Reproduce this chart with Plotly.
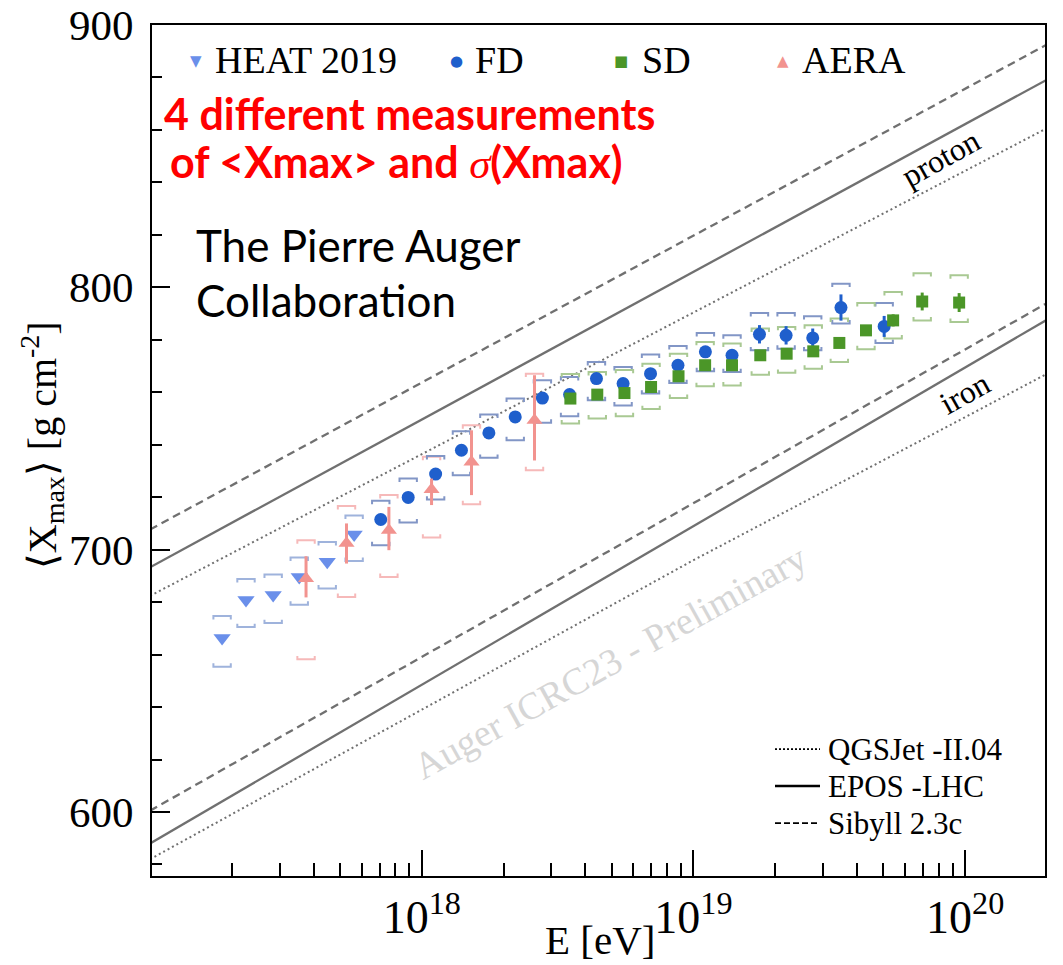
import plotly.graph_objects as go

# ---------------- data ----------------
# HEAT 2019: lg(E/eV), <Xmax>, systematic band (low, high)
heat_lgE = [17.265, 17.353, 17.453, 17.549, 17.652, 17.751]
heat_xmax = [666.3, 680.8, 682.7, 689.6, 695.4, 705.8]
heat_sys_lo = [655.4, 670.5, 672.0, 679.0, 685.2, 695.7]
heat_sys_hi = [674.7, 688.8, 690.5, 697.0, 702.9, 713.0]

# FD
fd_lgE = [17.849, 17.950, 18.051, 18.146, 18.247, 18.344, 18.444, 18.544, 18.643, 18.741,
          18.842, 18.943, 19.044, 19.142, 19.243, 19.341, 19.439, 19.543, 19.702]
fd_xmax = [711.5, 719.9, 728.8, 737.9, 744.5, 750.6, 757.8, 759.1, 765.2, 763.3,
           767.1, 770.3, 775.4, 774.1, 782.1, 781.7, 780.7, 792.3, 785.1]
fd_stat = [0.8, 0.8, 0.8, 0.8, 0.8, 0.8, 0.8, 0.9, 1.0, 1.0,
           1.1, 1.2, 1.4, 1.5, 3.5, 3.5, 3.6, 5.0, 4.0]
fd_sys_lo = [701.7, 710.4, 719.1, 728.4, 735.0, 741.7, 748.4, 750.9, 757.0, 755.0,
             759.5, 763.5, 768.0, 767.7, 776.0, 776.6, 776.0, 786.2, 778.8]
fd_sys_hi = [718.6, 727.1, 735.7, 745.1, 751.5, 757.6, 764.6, 765.8, 771.5, 769.6,
             774.4, 777.6, 782.6, 781.7, 790.2, 790.2, 789.0, 801.4, 794.0]

# SD
sd_lgE = [18.547, 18.646, 18.746, 18.844, 18.945, 19.043, 19.142, 19.246, 19.343, 19.441,
          19.537, 19.635, 19.735, 19.842, 19.978]
sd_xmax = [757.6, 759.1, 759.7, 762.0, 766.1, 770.3, 770.3, 774.1, 774.7, 775.6,
           778.8, 783.6, 787.4, 794.6, 794.2]
sd_stat = [0.5, 0.5, 0.5, 0.6, 0.7, 0.8, 0.9, 1.0, 1.2, 1.4,
           1.6, 1.9, 2.3, 3.4, 3.6]
sd_sys_lo = [748.1, 750.0, 750.9, 753.6, 757.8, 762.3, 762.6, 766.7, 767.4, 769.0,
             771.5, 776.4, 780.5, 787.4, 786.8]
sd_sys_hi = [767.0, 767.7, 768.5, 770.9, 774.7, 779.2, 778.6, 784.3, 784.9, 785.5,
             788.1, 794.0, 798.2, 805.4, 804.6]

# AERA
aera_lgE = [17.574, 17.723, 17.879, 18.036, 18.183, 18.415]
aera_xmax = [689.0, 702.4, 707.4, 722.9, 733.4, 749.3]
aera_stat_lo = [681.8, 694.7, 699.8, 717.0, 720.8, 734.0]
aera_stat_hi = [697.5, 710.0, 716.3, 727.1, 745.5, 766.5]
aera_sys_lo = [658.2, 682.0, 689.6, 704.6, 717.3, 730.3]
aera_sys_hi = [703.6, 716.6, 720.8, 735.4, 747.4, 767.1]

# Model predictions (proton / iron) vs lg(E/eV)
model_lgE = [17.0, 18.0, 19.0, 20.0, 20.3]
epos_p = [693.3, 749.6, 805.9, 862.2, 879.1]
sibyll_p = [707.7, 763.7, 819.7, 875.7, 892.5]
qgs_p = [682.4, 736.4, 790.4, 844.4, 860.6]
epos_fe = [588.0, 648.5, 709.0, 769.5, 787.6]
sibyll_fe = [600.5, 659.1, 717.7, 776.3, 793.9]
qgs_fe = [582.0, 639.0, 696.0, 750.5, 767.0]

x_tick_vals = [1e18, 1e19, 1e20]
x_tick_text = ["10<sup>18</sup>", "10<sup>19</sup>", "10<sup>20</sup>"]
y_tick_vals = [600, 700, 800, 900]

# ---------------- styling ----------------
C_HEAT = "#6a8fea"
C_FD = "#1f5fcc"
C_SD = "#4b9628"
C_AERA = "#f2938f"
C_HEAT_SYS = "#9fb3dc"
C_FD_SYS = "#8296c6"
C_SD_SYS = "#a9c993"
C_AERA_SYS = "#f6b9b9"
C_MODEL = "#707070"
SERIF = "Liberation Serif"

W, H = 1063, 965
L, R, T, B = 152, 1045, 24.5, 876


def px(x):
    return (x - L) / (R - L)


def py(y):
    return (B - y) / (B - T)


def E(lg):
    return [10.0 ** v for v in lg]


def brackets(lgE, lo, hi, half=0.032, tip=1.3):
    xs, ys = [], []
    for lg, a, b in zip(lgE, lo, hi):
        x0, x1 = 10.0 ** (lg - half), 10.0 ** (lg + half)
        xs += [x0, x0, x1, x1, None, x0, x0, x1, x1, None]
        ys += [b - tip, b, b, b - tip, None, a + tip, a, a, a + tip, None]
    return xs, ys


def note(x, y, text, size, color="black", family=SERIF, xanchor="center", angle=0):
    return dict(x=px(x), y=py(y), xref="paper", yref="paper", text=text, showarrow=False,
                font=dict(size=size, color=color, family=family), textangle=angle,
                xanchor=xanchor, yanchor="middle")


fig = go.Figure()

# model lines
models = [
    (sibyll_p, "dash"), (epos_p, "solid"), (qgs_p, "dot"),
    (sibyll_fe, "dash"), (epos_fe, "solid"), (qgs_fe, "dot"),
]
for vals, dash in models:
    fig.add_trace(go.Scatter(
        x=E(model_lgE), y=vals, mode="lines",
        line=dict(color=C_MODEL, width=2.3 if dash != "dot" else 2.0,
                  dash="8px,5px" if dash == "dash" else ("2px,3px" if dash == "dot" else "solid")),
        hoverinfo="skip", showlegend=False))

# systematic brackets
for lg, lo, hi, col in [(heat_lgE, heat_sys_lo, heat_sys_hi, C_HEAT_SYS),
                        (aera_lgE, aera_sys_lo, aera_sys_hi, C_AERA_SYS),
                        (fd_lgE, fd_sys_lo, fd_sys_hi, C_FD_SYS),
                        (sd_lgE, sd_sys_lo, sd_sys_hi, C_SD_SYS)]:
    bx, by = brackets(lg, lo, hi)
    fig.add_trace(go.Scatter(x=bx, y=by, mode="lines",
                             line=dict(color=col, width=2),
                             hoverinfo="skip", showlegend=False))

# HEAT
fig.add_trace(go.Scatter(
    x=E(heat_lgE), y=heat_xmax, mode="markers", name="HEAT 2019",
    marker=dict(symbol="triangle-down", size=15, color=C_HEAT), showlegend=False))

# FD
fig.add_trace(go.Scatter(
    x=E(fd_lgE), y=fd_xmax, mode="markers", name="FD",
    error_y=dict(type="data", array=fd_stat, color=C_FD, thickness=3, width=0),
    marker=dict(symbol="circle", size=13, color=C_FD), showlegend=False))

# SD
fig.add_trace(go.Scatter(
    x=E(sd_lgE), y=sd_xmax, mode="markers", name="SD",
    error_y=dict(type="data", array=sd_stat, color=C_SD, thickness=3, width=0),
    marker=dict(symbol="square", size=12, color=C_SD), showlegend=False))

# AERA
fig.add_trace(go.Scatter(
    x=E(aera_lgE), y=aera_xmax, mode="markers", name="AERA",
    error_y=dict(type="data", symmetric=False,
                 array=[h - m for h, m in zip(aera_stat_hi, aera_xmax)],
                 arrayminus=[m - l for l, m in zip(aera_stat_lo, aera_xmax)],
                 color=C_AERA, thickness=3, width=0),
    marker=dict(symbol="triangle-up", size=14, color=C_AERA), showlegend=False))

ann = []
# top legend
for sym, col, sx, label, lx in [("▼", C_HEAT, 196, "HEAT 2019", 213),
                                ("●", C_FD, 456, "FD", 473),
                                ("■", C_SD, 621, "SD", 640),
                                ("▲", C_AERA, 783, "AERA", 800)]:
    ann.append(note(sx, 61, sym, 15, col, "DejaVu Sans"))
    ann.append(note(lx, 60, label, 38, xanchor="left"))

# red note
ann.append(note(162, 113, "<b>4 different measurements</b>", 43, "#ff0000", "Lato", "left"))
ann.append(note(168, 161,
                "<b>of &lt;Xmax&gt; and </b><span style='font-family:Liberation Serif'><i>σ</i></span><b>(Xmax)</b>",
                43, "#ff0000", "Lato", "left"))

# collaboration
ann.append(note(194, 245, "The Pierre Auger", 44, family="Lato", xanchor="left"))
ann.append(note(194, 300, "Collaboration", 44, family="Lato", xanchor="left"))

# line labels
ann.append(note(941, 158, "proton", 32, angle=-29))
ann.append(note(965, 393, "iron", 32, angle=-29))

# watermark
ann.append(note(610, 662, "Auger ICRC23 - Preliminary", 38, "#d6d6d6", angle=-29))

# model legend
for yy, label in [(749, "QGSJet -II.04"), (786, "EPOS -LHC"), (823, "Sibyll 2.3c")]:
    ann.append(note(826, yy, label, 31, xanchor="left"))

# axis titles
ann.append(note(600, 940, "E [eV]", 41))
ann.append(note(42, 445, "⟨X<sub>max</sub>⟩ [g cm<sup>-2</sup>]", 40, angle=-90))

shapes = []
for yy, dash in [(749, "dot"), (786, "solid"), (823, "dash")]:
    shapes.append(dict(type="line", xref="paper", yref="paper",
                       x0=px(775), x1=px(820), y0=py(yy), y1=py(yy),
                       line=dict(color="black", width=2.4 if dash == "solid" else 1.8,
                                 dash="6px,3px" if dash == "dash" else ("2px,2px" if dash == "dot" else "solid"))))

minor_x = [m * 10.0 ** d for d in (17, 18, 19) for m in range(2, 10)]
minor_x = [v for v in minor_x if v < 10.0 ** 20.29]

fig.update_layout(
    width=W, height=H,
    margin=dict(l=L, r=W - R, t=T, b=H - B, autoexpand=False),
    paper_bgcolor="white", plot_bgcolor="white",
    annotations=ann, shapes=shapes,
    xaxis=dict(type="log", range=[17.007, 20.294], showgrid=False, zeroline=False,
               automargin=False, ticklabeloverflow="allow",
               showline=True, linecolor="black", linewidth=2, mirror=True,
               tickmode="array", tickvals=x_tick_vals, ticktext=x_tick_text,
               ticks="inside", ticklen=26, tickwidth=1.5, tickcolor="black",
               tickfont=dict(size=46, family=SERIF, color="black"),
               minor=dict(tickmode="array", tickvals=minor_x, ticks="inside",
                          ticklen=13, tickwidth=1.5, tickcolor="black", showgrid=False)),
    yaxis=dict(range=[575.6, 900], showgrid=False, zeroline=False,
               automargin=False, ticklabeloverflow="allow",
               showline=True, linecolor="black", linewidth=2, mirror=True,
               tickmode="array", tickvals=y_tick_vals,
               ticks="inside", ticklen=18, tickwidth=2, tickcolor="black",
               ticklabelstandoff=8,
               tickfont=dict(size=43, family=SERIF, color="black"),
               minor=dict(dtick=20, ticks="inside", ticklen=10, tickwidth=1.5,
                          tickcolor="black", showgrid=False)),
)

fig.write_html("out.html")
